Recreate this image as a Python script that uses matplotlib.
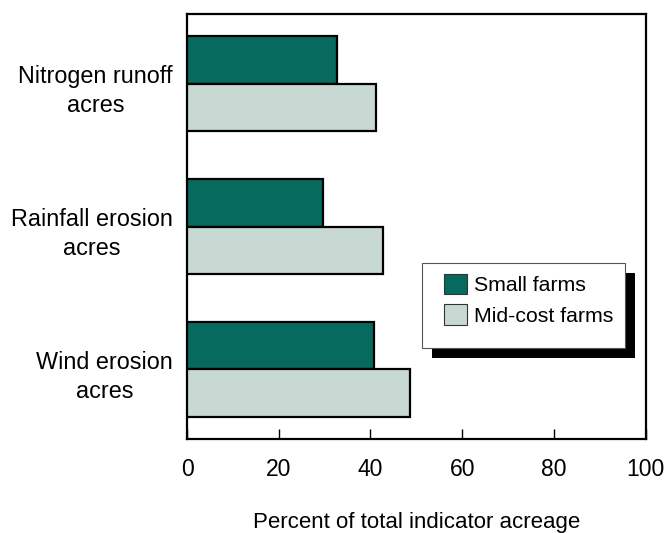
import matplotlib
matplotlib.use("Agg")
import matplotlib.pyplot as plt
import matplotlib.transforms as mtransforms
from matplotlib.patches import Rectangle

plt.rcParams['font.family'] = ['Liberation Sans', 'DejaVu Sans']

categories = ["Wind erosion\nacres", "Rainfall erosion\nacres", "Nitrogen runoff\nacres"]
small_farms = [40.8, 29.7, 32.6]
midcost_farms = [48.6, 42.7, 41.1]
series_names = ["Small farms", "Mid-cost farms"]
xticks = [0, 20, 40, 60, 80, 100]

dark = "#076A5E"
light = "#C8D8D2"

fig = plt.figure(figsize=(6.65, 5.33), dpi=100)
ax = fig.add_axes([187/665, 1-439/533, 458.7/665, 425/533])

pos = list(range(len(categories)))
h = 0.333
ax.barh([p + h/2 for p in pos], small_farms, height=h, color=dark,
        edgecolor="black", linewidth=1.6, label=series_names[0], zorder=3)
ax.barh([p - h/2 for p in pos], midcost_farms, height=h, color=light,
        edgecolor="black", linewidth=1.6, label=series_names[1], zorder=3)

ax.set_xlim(0, 100)
ax.set_ylim(-0.49, 2.49)
ax.set_xticks(xticks)
ax.set_xticklabels([str(t) for t in xticks], fontsize=16.5)
ax.tick_params(axis='x', direction='in', length=7, width=1, pad=14)
ax.set_yticks(pos)
ax.set_yticklabels(categories, fontsize=16.8, ha='right', multialignment='center',
                   linespacing=1.33)
ax.tick_params(axis='y', length=0, pad=10)
off = mtransforms.ScaledTranslation(0, -2/100, fig.dpi_scale_trans)
for lab in ax.get_yticklabels():
    lab.set_transform(lab.get_transform() + off)
for sp in ax.spines.values():
    sp.set_linewidth(1.6)

ax.set_xlabel("Percent of total indicator acreage", fontsize=16, labelpad=22)

# legend frame with solid shadow
x0, y0, w, hh = (422-187)/458.7, (439-348)/425, (625-422)/458.7, (348-263)/425
dx, dy = 10/458.7, 10/425
ax.add_patch(Rectangle((x0+dx, y0-dy), w, hh, transform=ax.transAxes,
                       facecolor="black", edgecolor="none", zorder=6, clip_on=False))
ax.add_patch(Rectangle((x0, y0), w, hh, transform=ax.transAxes,
                       facecolor="white", edgecolor="#555555", linewidth=0.8,
                       zorder=7, clip_on=False))
leg = ax.legend(loc='upper left', bbox_to_anchor=((444-187)/458.7, (439-274)/425),
                frameon=False, fontsize=15.3, borderpad=0, borderaxespad=0,
                handlelength=1.1, handleheight=1.1, handletextpad=0.33,
                labelspacing=0.42)
for hdl in leg.legend_handles:
    hdl.set_linewidth(0.8)
    hdl.set_edgecolor("#333333")
leg.set_zorder(10)

fig.savefig("out.png", dpi=100)
